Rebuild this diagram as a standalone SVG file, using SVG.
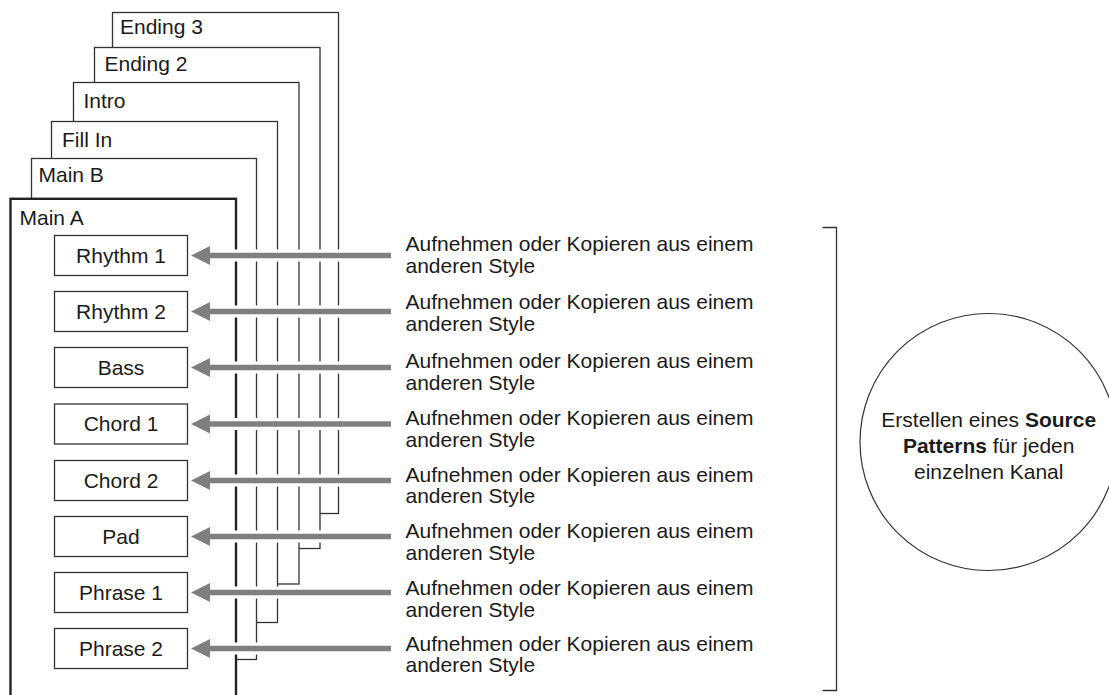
<svg xmlns="http://www.w3.org/2000/svg" width="1109" height="695" viewBox="0 0 1109 695">
<defs>
<style>
text{font-family:"Liberation Sans",Arial,Helvetica,sans-serif;font-size:21px;fill:#1a1a1a}
.tab{fill:#fff;stroke:#333;stroke-width:1.3}
.main{fill:#fff;stroke:#222;stroke-width:2.4}
.ch{fill:#fff;stroke:#333;stroke-width:1.3}
.halo{stroke:#fff;stroke-width:12}
.arr{stroke:#7f7f7f;stroke-width:5.5;marker-end:url(#ah)}
.mid{text-anchor:middle}
.brk{fill:none;stroke:#333;stroke-width:1.3}
.circ{fill:#fff;stroke:#333;stroke-width:1.2}
b{font-weight:bold}
</style>
<marker id="ah" markerUnits="userSpaceOnUse" markerWidth="20" markerHeight="20" viewBox="0 0 20 20" refX="5" refY="9.5" orient="auto">
<path d="M0,0 L19,9.5 L0,19 Z" fill="#7f7f7f"/>
</marker>
</defs>
<rect width="1109" height="695" fill="#fff"/>

<g id="ending3"><rect class="tab" x="112.5" y="12.5" width="226" height="501"/><text x="120" y="34">Ending 3</text></g>
<g id="ending2"><rect class="tab" x="94.5" y="47.5" width="225.5" height="501"/><text x="104.5" y="70.5">Ending 2</text></g>
<g id="intro"><rect class="tab" x="73.5" y="82.5" width="225.5" height="501.5"/><text x="83.5" y="108">Intro</text></g>
<g id="fillin"><rect class="tab" x="51.5" y="121.5" width="226" height="501"/><text x="62" y="146.5">Fill In</text></g>
<g id="mainb"><rect class="tab" x="31.5" y="158.5" width="225" height="501"/><text x="38.5" y="181.5">Main B</text></g>
<g id="maina"><rect class="main" x="10.5" y="198.8" width="225.5" height="530"/><text x="19.5" y="225">Main A</text></g>

<g id="rhythm1"><rect class="ch" x="54.5" y="235.5" width="133" height="40"/><text class="mid" x="121" y="262.8">Rhythm 1</text></g>
<g id="rhythm2"><rect class="ch" x="54.5" y="291.5" width="133" height="40"/><text class="mid" x="121" y="318.8">Rhythm 2</text></g>
<g id="bass"><rect class="ch" x="54.5" y="347.5" width="133" height="40"/><text class="mid" x="121" y="374.8">Bass</text></g>
<g id="chord1"><rect class="ch" x="54.5" y="404" width="133" height="40"/><text class="mid" x="121" y="431.3">Chord 1</text></g>
<g id="chord2"><rect class="ch" x="54.5" y="460.5" width="133" height="40"/><text class="mid" x="121" y="487.8">Chord 2</text></g>
<g id="pad"><rect class="ch" x="54.5" y="516.5" width="133" height="40"/><text class="mid" x="121" y="543.8">Pad</text></g>
<g id="phrase1"><rect class="ch" x="54.5" y="572.5" width="133" height="40"/><text class="mid" x="121" y="599.8">Phrase 1</text></g>
<g id="phrase2"><rect class="ch" x="54.5" y="628.5" width="133" height="40"/><text class="mid" x="121" y="655.8">Phrase 2</text></g>

<g id="connectors">
<line class="halo" x1="214" y1="255.5" x2="350" y2="255.5"/>
<line class="halo" x1="214" y1="311.5" x2="350" y2="311.5"/>
<line class="halo" x1="214" y1="367.5" x2="350" y2="367.5"/>
<line class="halo" x1="214" y1="424" x2="350" y2="424"/>
<line class="halo" x1="214" y1="480.5" x2="350" y2="480.5"/>
<line class="halo" x1="214" y1="536.5" x2="350" y2="536.5"/>
<line class="halo" x1="214" y1="592.5" x2="350" y2="592.5"/>
<line class="halo" x1="214" y1="648.5" x2="350" y2="648.5"/>
<line class="arr" x1="391" y1="255.5" x2="205" y2="255.5"/>
<line class="arr" x1="391" y1="311.5" x2="205" y2="311.5"/>
<line class="arr" x1="391" y1="367.5" x2="205" y2="367.5"/>
<line class="arr" x1="391" y1="424" x2="205" y2="424"/>
<line class="arr" x1="391" y1="480.5" x2="205" y2="480.5"/>
<line class="arr" x1="391" y1="536.5" x2="205" y2="536.5"/>
<line class="arr" x1="391" y1="592.5" x2="205" y2="592.5"/>
<line class="arr" x1="391" y1="648.5" x2="205" y2="648.5"/>
</g>

<g id="labels">
<text x="405.5" y="251">Aufnehmen oder Kopieren aus einem<tspan x="405.5" dy="21.5">anderen Style</tspan></text>
<text x="405.5" y="309">Aufnehmen oder Kopieren aus einem<tspan x="405.5" dy="21.5">anderen Style</tspan></text>
<text x="405.5" y="368">Aufnehmen oder Kopieren aus einem<tspan x="405.5" dy="21.5">anderen Style</tspan></text>
<text x="405.5" y="425">Aufnehmen oder Kopieren aus einem<tspan x="405.5" dy="21.5">anderen Style</tspan></text>
<text x="405.5" y="481.5">Aufnehmen oder Kopieren aus einem<tspan x="405.5" dy="21.5">anderen Style</tspan></text>
<text x="405.5" y="538">Aufnehmen oder Kopieren aus einem<tspan x="405.5" dy="21.5">anderen Style</tspan></text>
<text x="405.5" y="595">Aufnehmen oder Kopieren aus einem<tspan x="405.5" dy="21.5">anderen Style</tspan></text>
<text x="405.5" y="650.5">Aufnehmen oder Kopieren aus einem<tspan x="405.5" dy="21.5">anderen Style</tspan></text>
</g>

<path class="brk" d="M822.5,227.5 H836.5 V690.5 H822.5"/>

<g id="source">
<circle class="circ" cx="988.5" cy="442" r="128.5"/>
<text class="mid" x="988.7" y="426.7">Erstellen eines <tspan font-weight="bold">Source</tspan></text>
<text class="mid" x="988.7" y="452.8"><tspan font-weight="bold">Patterns</tspan> für jeden</text>
<text class="mid" x="988.7" y="478.8">einzelnen Kanal</text>
</g>
</svg>
